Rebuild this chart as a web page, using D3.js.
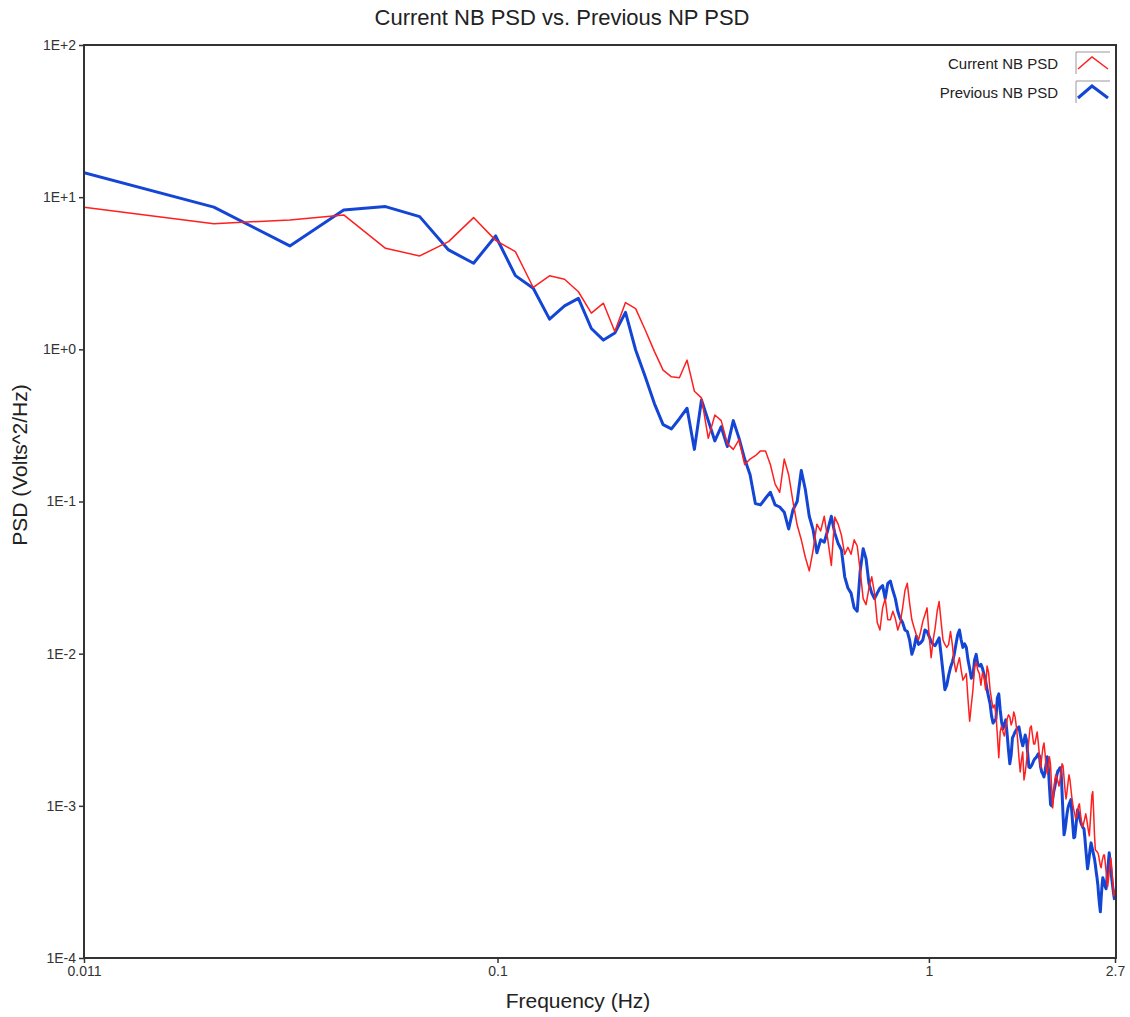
<!DOCTYPE html>
<html>
<head>
<meta charset="utf-8">
<script src="https://cdn.jsdelivr.net/npm/d3@7"></script>
<style>
  html, body { margin: 0; padding: 0; background: #fff; }
  svg { display: block; font-family: "Liberation Sans", Arial, sans-serif; }
</style>
</head>
<body>
<svg id="chart" width="1130" height="1017"></svg>
<script>
// ---- Data -------------------------------------------------------------
const chartTitle = "Current NB PSD vs. Previous NP PSD";
const xTitle = "Frequency (Hz)";
const yTitle = "PSD (Volts^2/Hz)";
const seriesNames = ["Current NB PSD", "Previous NB PSD"];
const binWidth = 0.011; // Hz, frequency resolution of the PSD

const xTickValues = [0.011, 0.1, 1, 2.7];
const xTickLabels = ["0.011", "0.1", "1", "2.7"];
const yTickValues = [1e2, 1e1, 1e0, 1e-1, 1e-2, 1e-3, 1e-4];
const yTickLabels = ["1E+2", "1E+1", "1E+0", "1E-1", "1E-2", "1E-3", "1E-4"];

const currentPSD = [
  8.6, 6.7, 7.08, 7.64, 4.61, 4.11, 5.1, 7.34, 5.2, 4.39,
  2.55, 3.04, 2.89, 2.39, 1.73, 2.01, 1.31, 2.03, 1.85, 1.34,
  0.97, 0.73, 0.66, 0.65, 0.85, 0.53, 0.48, 0.26, 0.37, 0.34,
  0.24, 0.22, 0.255, 0.175, 0.19, 0.20, 0.215, 0.215, 0.175, 0.13,
  0.115, 0.19, 0.15, 0.10, 0.07, 0.056, 0.043, 0.035, 0.048, 0.071,
  0.064, 0.08, 0.056, 0.038, 0.079, 0.071, 0.06, 0.045, 0.050, 0.045,
  0.056, 0.051, 0.035, 0.023, 0.021, 0.027, 0.032, 0.025, 0.016, 0.0143,
  0.02, 0.023, 0.0167, 0.0167, 0.019, 0.017, 0.0143, 0.016, 0.02, 0.026,
  0.029, 0.0215, 0.0167, 0.0148, 0.0133, 0.0123, 0.014, 0.0163, 0.018, 0.02,
  0.0133, 0.0094, 0.0123, 0.0148, 0.019, 0.022, 0.0163, 0.0123, 0.0115, 0.011,
  0.0115, 0.014, 0.0115, 0.0088, 0.0076, 0.0085, 0.0094, 0.0078, 0.0067, 0.007,
  0.0074, 0.005, 0.0036, 0.0046, 0.0058, 0.0081, 0.0088, 0.0078, 0.0074, 0.0062,
  0.0075, 0.0070, 0.0058, 0.0083, 0.0075, 0.0058, 0.00497, 0.0044, 0.0046, 0.00402,
  0.00292, 0.00207, 0.00306, 0.00335, 0.00306, 0.00288, 0.00325, 0.00372, 0.00396, 0.00384,
  0.0034, 0.00361, 0.00414, 0.00384, 0.0033, 0.00271, 0.00207, 0.00167, 0.00201, 0.00226,
  0.00148, 0.00165, 0.00195, 0.00226, 0.00271, 0.00325, 0.00335, 0.00292, 0.00255, 0.00255,
  0.0028, 0.00306, 0.00259, 0.00213, 0.00178, 0.00207, 0.0024, 0.00259, 0.0022, 0.00178,
  0.00162, 0.00183, 0.0021, 0.00186, 0.00133, 0.00097, 0.00124, 0.00148, 0.0016, 0.00153,
  0.00144, 0.00135, 0.00148, 0.00165, 0.00189, 0.00183, 0.00153, 0.00127, 0.00111, 0.00124,
  0.00142, 0.0016, 0.00148, 0.00129, 0.00113, 0.00102, 0.000941, 0.000886, 0.000822, 0.000846,
  0.000927, 0.001, 0.00103, 0.0009, 0.000809, 0.000728, 0.000739, 0.000785, 0.000834, 0.000886,
  0.000822, 0.00075, 0.000685, 0.000635, 0.000773, 0.000955, 0.00118, 0.00124, 0.000913, 0.000645,
  0.000514, 0.000506, 0.000499, 0.000491, 0.000469, 0.000435, 0.000404, 0.000392, 0.000429, 0.000455,
  0.000476, 0.000476, 0.000422, 0.000374, 0.000332, 0.000294, 0.000326, 0.000369, 0.00041, 0.000455,
  0.000404, 0.000347, 0.000298, 0.000256, 0.000281
];

const previousPSD = [
  14.5, 8.6, 4.78, 8.24, 8.67, 7.45, 4.5, 3.68, 5.56, 3.05,
  2.52, 1.58, 1.93, 2.16, 1.37, 1.15, 1.28, 1.75, 0.99, 0.66,
  0.44, 0.32, 0.30, 0.35, 0.41, 0.22, 0.465, 0.34, 0.25, 0.31,
  0.23, 0.34, 0.26, 0.19, 0.15, 0.097, 0.095, 0.105, 0.115, 0.095,
  0.092, 0.085, 0.066, 0.088, 0.10, 0.16, 0.12, 0.08, 0.065, 0.046,
  0.056, 0.054, 0.065, 0.08, 0.062, 0.053, 0.048, 0.032, 0.027, 0.025,
  0.020, 0.019, 0.035, 0.049, 0.042, 0.029, 0.025, 0.023, 0.025, 0.027,
  0.028, 0.023, 0.029, 0.030, 0.026, 0.023, 0.019, 0.017, 0.016, 0.0143,
  0.014, 0.0123, 0.0099, 0.011, 0.013, 0.0115, 0.0118, 0.0123, 0.0143, 0.014,
  0.013, 0.012, 0.0115, 0.0113, 0.012, 0.0127, 0.0099, 0.0076, 0.0058, 0.0062,
  0.0072, 0.0081, 0.0088, 0.0098, 0.0115, 0.0133, 0.0143, 0.0123, 0.011, 0.0116,
  0.011, 0.0091, 0.008, 0.0069, 0.0072, 0.0091, 0.0099, 0.0085, 0.0083, 0.0085,
  0.008, 0.0073, 0.0067, 0.0058, 0.0052, 0.0047, 0.0039, 0.0035, 0.00361, 0.00372,
  0.00512, 0.00544, 0.00427, 0.00356, 0.0032, 0.00345, 0.00367, 0.00297, 0.00233, 0.00189,
  0.00216, 0.0028, 0.00292, 0.00306, 0.00316, 0.00325, 0.0033, 0.00297, 0.00267, 0.00248,
  0.00267, 0.00292, 0.00271, 0.00223, 0.0018, 0.00178, 0.00183, 0.00189, 0.00198, 0.00204,
  0.00207, 0.00213, 0.0022, 0.00213, 0.0018, 0.00167, 0.00162, 0.00155, 0.0017, 0.00189,
  0.0021, 0.00178, 0.00133, 0.00102, 0.001, 0.00111, 0.00124, 0.00133, 0.00146, 0.0016,
  0.0017, 0.00172, 0.00178, 0.00172, 0.00124, 0.000873, 0.000645, 0.000696, 0.000785, 0.000886,
  0.00097, 0.00102, 0.00106, 0.0011, 0.0009, 0.000739, 0.000616, 0.000625, 0.000717, 0.00082,
  0.000941, 0.0009, 0.000846, 0.000797, 0.000761, 0.000739, 0.000717, 0.000706, 0.000616, 0.000522,
  0.000448, 0.000386, 0.000422, 0.000469, 0.000522, 0.000571, 0.000538, 0.000506, 0.000476, 0.000448,
  0.00041, 0.000369, 0.000337, 0.000302, 0.000256, 0.000224, 0.000201, 0.000249, 0.000298, 0.000337,
  0.000322, 0.000307, 0.000294, 0.000285, 0.000326, 0.00038, 0.000429, 0.000491, 0.000435, 0.000386,
  0.000342, 0.000307, 0.000281, 0.000256, 0.000241
];

const seriesColors = ["#ff1f1f", "#1446d6"];
const seriesWidths = [1.5, 3];

// ---- Layout ------------------------------------------------------------
const svg = d3.select("#chart");
const plot = { left: 84, right: 1116, top: 45, bottom: 958 };

const x = d3.scaleLog().domain([0.011, 2.7]).range([plot.left, plot.right - 1]);
const y = d3.scaleLog().domain([1e-4, 1e2]).range([plot.bottom, plot.top]);

const freqs = currentPSD.map((_, i) => (i + 1) * binWidth);
const series = [currentPSD, previousPSD].map((vals, k) => ({
  name: seriesNames[k],
  color: seriesColors[k],
  width: seriesWidths[k],
  points: vals.map((v, i) => ({ f: freqs[i], v }))
}));

// Title
svg.append("text")
  .attr("x", 562).attr("y", 25)
  .attr("text-anchor", "middle")
  .attr("font-size", 22).attr("fill", "#222")
  .text(chartTitle);

// Clip
svg.append("clipPath").attr("id", "clip")
  .append("rect")
  .attr("x", plot.left).attr("y", plot.top)
  .attr("width", plot.right - plot.left).attr("height", plot.bottom - plot.top);

// Lines
const line = d3.line().x(d => x(d.f)).y(d => y(d.v));
const gLines = svg.append("g").attr("clip-path", "url(#clip)");
// draw blue first (under), red on top
[series[1], series[0]].forEach(s => {
  gLines.append("path")
    .datum(s.points)
    .attr("fill", "none")
    .attr("stroke", s.color)
    .attr("stroke-width", s.width)
    .attr("stroke-linejoin", "round")
    .attr("d", line);
});

// Frame
svg.append("rect")
  .attr("x", plot.left).attr("y", plot.top)
  .attr("width", plot.right - plot.left).attr("height", plot.bottom - plot.top)
  .attr("fill", "none").attr("stroke", "#333").attr("stroke-width", 2);

// Axes
const yAxis = d3.axisLeft(y)
  .tickValues(yTickValues)
  .tickFormat((d, i) => yTickLabels[i])
  .tickSize(5).tickPadding(3);
const gy = svg.append("g").attr("transform", `translate(${plot.left},0)`).call(yAxis);
gy.select(".domain").remove();
gy.selectAll(".tick line").attr("stroke", "#333").attr("stroke-width", 1.5);
gy.selectAll(".tick text").attr("font-size", 14).attr("fill", "#333")
  .attr("font-family", "'Liberation Sans', Arial, sans-serif");

const xAxis = d3.axisBottom(x)
  .tickValues(xTickValues)
  .tickFormat((d, i) => xTickLabels[i])
  .tickSize(5).tickPadding(3);
const gx = svg.append("g").attr("transform", `translate(0,${plot.bottom})`).call(xAxis);
gx.select(".domain").remove();
gx.selectAll(".tick line").attr("stroke", "#333").attr("stroke-width", 1.5);
gx.selectAll(".tick text").attr("font-size", 14).attr("fill", "#333")
  .attr("font-family", "'Liberation Sans', Arial, sans-serif");

// Axis titles
svg.append("text")
  .attr("x", 578).attr("y", 1008)
  .attr("text-anchor", "middle")
  .attr("font-size", 21).attr("fill", "#222")
  .text(xTitle);
svg.append("text")
  .attr("transform", "translate(27,465) rotate(-90)")
  .attr("text-anchor", "middle")
  .attr("font-size", 21).attr("fill", "#222")
  .text(yTitle);

// Legend
const legend = svg.append("g");
series.forEach((s, i) => {
  const top = 52 + i * 29;
  legend.append("text")
    .attr("x", 1058).attr("y", top + 17)
    .attr("text-anchor", "end")
    .attr("font-size", 15).attr("fill", "#222")
    .text(s.name);
  legend.append("path")
    .attr("d", `M1076,${top + 22}V${top}H1110`)
    .attr("fill", "none").attr("stroke", "#999").attr("stroke-width", 1);
  legend.append("path")
    .attr("d", `M1078,${top + 17}L1092,${top + 5}L1108,${top + 17}`)
    .attr("fill", "none").attr("stroke", s.color).attr("stroke-width", s.width);
});
</script>
</body>
</html>
